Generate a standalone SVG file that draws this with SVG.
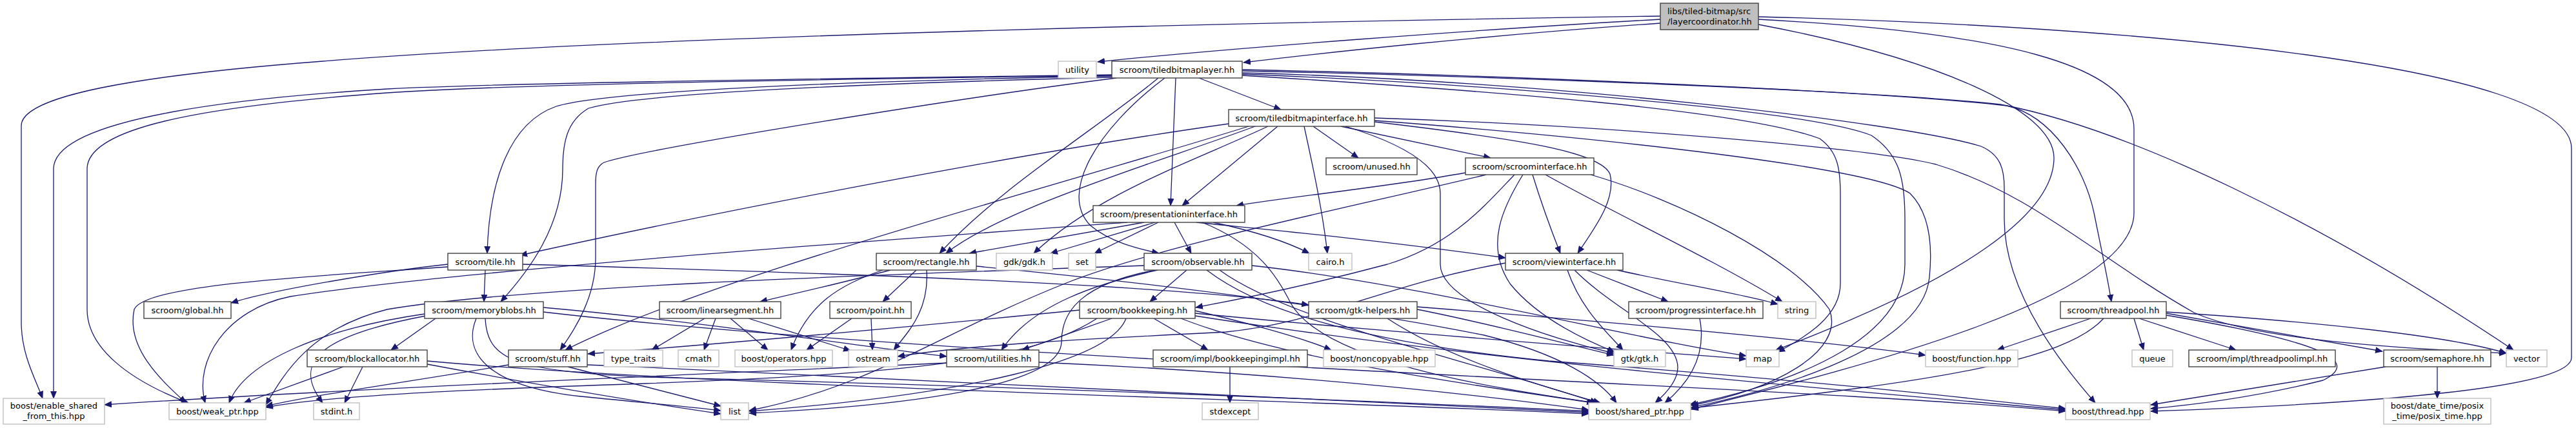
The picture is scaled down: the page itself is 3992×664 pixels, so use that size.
<svg xmlns="http://www.w3.org/2000/svg" width="3992" height="664" viewBox="0 0 3992 664">
<style>
.n rect{fill:#fff;stroke:#404040;stroke-width:1.4}
.s rect{fill:#fff;stroke:#bfbfbf;stroke-width:1.4}
.r rect{fill:#bfbfbf;stroke:#404040;stroke-width:1.4}
text{font-family:"DejaVu Sans","Liberation Sans",sans-serif;font-size:13px;fill:#000;text-anchor:middle}
.e path{fill:none;stroke:#191970;stroke-width:1.3;marker-end:url(#a)}
</style>
<defs>
<marker id="a" viewBox="0 0 12 10" refX="11" refY="5" markerWidth="12" markerHeight="10" markerUnits="userSpaceOnUse" orient="auto"><path d="M0,0 L12,5 L0,10 z" fill="#191970" stroke="none"/></marker>
</defs>
<rect width="3992" height="664" fill="#fff"/>
<g id="edges" class="e">
<path d="M2573,30 C2300,45 1900,75 1701,96"/>
<path d="M2573,36 C2300,55 2050,82 1927,97"/>
<path d="M2573,25 C2000,33 1000,55 500,95 C200,118 33,150 33,195 L33,500 C33,550 55,588 66,618"/>
<path d="M2725,38 C3000,90 3183,170 3183,245 C3183,330 3050,430 2752,543"/>
<path d="M2725,30 C3100,50 3307,100 3307,200 L3307,330 C3307,460 2900,565 2621,635"/>
<path d="M2725,26 C3300,40 3985,100 3985,230 L3985,555 C3985,600 3700,625 3333,638"/>
<path d="M1858,121 L1985,170"/>
<path d="M1822,121 L1814,319"/>
<path d="M1795,121 C1700,200 1550,290 1456,393"/>
<path d="M1805,121 C1700,200 1640,300 1690,350 C1720,375 1760,385 1796,393"/>
<path d="M1723,118 C1400,124 950,138 862,165 C790,190 758,280 755,393"/>
<path d="M1723,120 C1400,128 1000,142 912,168 C878,188 872,222 872,262 C872,350 820,420 776,468"/>
<path d="M1730,121 C1500,150 1000,230 936,252 C925,258 923,268 923,285 L923,400 C923,460 892,510 868,543"/>
<path d="M1723,116 C1300,122 800,128 600,138 C400,150 83,180 83,262 L83,618"/>
<path d="M1723,117 C1300,123 800,130 600,144 C300,166 135,200 135,262 L135,480 C135,540 200,590 292,625"/>
<path d="M1925,108 C2300,116 2900,140 3110,164 C3180,180 3230,260 3245,330 C3255,380 3265,425 3272,468"/>
<path d="M1925,110 C2300,118 2900,140 3100,162 C3300,200 3600,345 3895,543"/>
<path d="M1925,113 C2400,125 2950,190 3070,227 C3100,240 3106,262 3106,292 L3106,340 C3106,450 3190,560 3247,625"/>
<path d="M1925,115 C2300,130 2800,170 2900,210 C2945,240 2952,280 2952,340 L2952,410 C2952,520 2800,590 2618,628"/>
<path d="M1925,117 C2300,140 2700,170 2820,215 C2848,235 2852,262 2852,302 L2852,440 C2852,490 2800,522 2755,546"/>
<path d="M2035,196 L2105,245"/>
<path d="M2078,196 L2310,245"/>
<path d="M1980,196 L1832,319"/>
<path d="M1945,196 C1800,250 1560,320 1466,393"/>
<path d="M1965,196 C1850,250 1700,300 1602,393"/>
<path d="M2021,196 C2035,260 2050,330 2057,393"/>
<path d="M1904,192 C1600,235 1150,320 806,396"/>
<path d="M1935,196 C1600,300 1100,430 876,543"/>
<path d="M2130,189 C2350,215 2480,235 2495,270 C2505,310 2470,355 2445,393"/>
<path d="M2085,196 C2180,225 2232,260 2232,300 L2232,410 C2232,470 2400,525 2501,548"/>
<path d="M2130,183 C2500,195 2900,230 3000,255 C3150,300 3250,400 3400,485 C3500,530 3750,542 3884,548"/>
<path d="M2130,187 C2500,215 2900,260 2960,300 C2990,330 2995,380 2990,430 C2980,540 2750,605 2621,632"/>
<path d="M2271,268 C2150,290 2000,305 1916,319"/>
<path d="M2303,271 C2100,320 1800,380 1650,440 C1450,520 1350,600 1161,637"/>
<path d="M2347,271 C2300,320 2250,380 2150,410 C2000,450 1900,468 1853,477"/>
<path d="M2360,271 C2330,320 2300,380 2340,440 C2380,490 2450,525 2502,546"/>
<path d="M2375,271 C2390,320 2405,360 2418,393"/>
<path d="M2395,271 C2500,330 2650,400 2762,468"/>
<path d="M2465,271 C2600,310 2780,400 2835,480 C2860,545 2750,605 2621,629"/>
<path d="M1747,345 C1400,370 700,420 450,460 C350,480 300,560 318,625"/>
<path d="M1773,345 L1502,393"/>
<path d="M1790,345 L1628,393"/>
<path d="M1795,345 L1696,393"/>
<path d="M1820,345 L1846,393"/>
<path d="M1854,345 C1950,355 2100,368 2333,400"/>
<path d="M1880,345 C1950,360 2000,378 2029,393"/>
<path d="M1863,345 C1950,380 1980,430 2000,470 C2050,560 2300,600 2472,625"/>
<path d="M752,419 L750,468"/>
<path d="M694,410 C600,420 420,450 358,470"/>
<path d="M694,414 C500,428 225,440 208,480 C195,540 250,590 288,625"/>
<path d="M810,410 C1300,424 1800,440 2028,473"/>
<path d="M1420,419 L1368,468"/>
<path d="M1436,419 C1440,480 1410,512 1385,543"/>
<path d="M1380,419 C1300,440 1230,456 1178,468"/>
<path d="M1368,419 C1300,442 1252,472 1226,543"/>
<path d="M1513,413 C1800,440 2100,480 2300,520 C2420,550 2480,590 2505,625"/>
<path d="M1839,419 L1782,468"/>
<path d="M1794,419 C1700,440 1600,472 1552,543"/>
<path d="M1790,419 C1680,440 1645,480 1645,530 C1645,600 1400,630 1161,641"/>
<path d="M1773,412 C1300,428 800,446 600,480 C480,510 440,580 412,628"/>
<path d="M1940,412 C2200,440 2550,530 2706,552"/>
<path d="M1870,419 C1950,480 2100,530 2400,560 C2800,590 3000,612 3201,634"/>
<path d="M1890,419 C2000,500 2300,565 2475,625"/>
<path d="M1788,494 L1872,543"/>
<path d="M1723,494 L1584,543"/>
<path d="M1745,494 C1720,560 1500,612 1161,638"/>
<path d="M1673,481 C1400,508 1100,535 911,549"/>
<path d="M1852,482 C1950,505 2020,525 2063,543"/>
<path d="M1852,486 C2200,520 2550,545 2706,557"/>
<path d="M1852,490 C2300,560 2800,600 3201,636"/>
<path d="M1830,494 C2000,560 2300,600 2470,625"/>
<path d="M1700,494 C1600,560 1400,580 1000,595 C700,605 500,615 412,632"/>
<path d="M675,494 L606,543"/>
<path d="M660,490 C500,520 450,560 500,625"/>
<path d="M658,487 C500,510 380,560 355,625"/>
<path d="M738,494 C715,550 760,600 900,615 C1000,625 1080,632 1117,637"/>
<path d="M752,494 C755,560 800,575 1000,585 C1600,600 2200,625 2462,638"/>
<path d="M842,477 C1100,500 1350,540 1467,553"/>
<path d="M842,484 C1500,560 2800,600 3201,638"/>
<path d="M562,569 L534,625"/>
<path d="M532,569 L378,625"/>
<path d="M662,560 C1100,600 2000,620 2462,642"/>
<path d="M662,565 C850,600 1000,625 1117,642"/>
<path d="M880,569 L1117,630"/>
<path d="M910,566 C1500,590 2100,620 2462,640"/>
<path d="M788,566 C650,590 500,610 412,630"/>
<path d="M1467,563 C1100,580 500,605 162,628"/>
<path d="M1610,562 C1900,575 2200,600 2462,636"/>
<path d="M1092,494 L1010,543"/>
<path d="M1109,494 L1091,543"/>
<path d="M1132,494 L1190,543"/>
<path d="M1160,494 L1318,544"/>
<path d="M1350,494 L1352,543"/>
<path d="M1320,494 L1250,543"/>
<path d="M2459,419 L2585,468"/>
<path d="M2506,419 C2600,440 2700,456 2755,472"/>
<path d="M2429,419 C2450,480 2490,515 2515,543"/>
<path d="M2440,419 C2500,480 2600,520 2600,570 C2600,592 2580,612 2565,625"/>
<path d="M2333,408 C2150,440 2050,500 1900,515 C1700,525 1500,535 1391,553"/>
<path d="M2634,494 C2645,550 2620,592 2580,625"/>
<path d="M2196,480 C2300,500 2420,532 2501,551"/>
<path d="M2196,476 C2500,500 2800,526 2984,551"/>
<path d="M2150,494 C2250,560 2400,602 2480,625"/>
<path d="M3307,494 L3322,543"/>
<path d="M3315,494 L3465,543"/>
<path d="M3357,486 L3692,545"/>
<path d="M3357,484 C3600,500 3800,522 3884,548"/>
<path d="M3357,489 C3600,530 3660,560 3600,590 C3500,615 3400,628 3333,634"/>
<path d="M3240,494 L3095,543"/>
<path d="M3260,494 C3200,560 3000,592 2621,633"/>
<path d="M3697,569 L3333,628"/>
<path d="M3777,569 L3777,618"/>
<path d="M1906,569 L1906,625"/>
</g>
<g id="layercoordinator" class="r"><rect x="2573" y="5" width="152" height="41"/><text x="2584" y="22" style="text-anchor:start">libs/tiled-bitmap/src</text><text x="2584" y="38" style="text-anchor:start">/layercoordinator.hh</text></g>
<g id="utility" class="s"><rect x="1640" y="95" width="59" height="26"/><text x="1669.5" y="112.5">utility</text></g>
<g id="tiledbitmaplayer" class="n"><rect x="1723" y="95" width="202" height="26"/><text x="1824" y="112.5">scroom/tiledbitmaplayer.hh</text></g>
<g id="tiledbitmapinterface" class="n"><rect x="1904" y="170" width="226" height="26"/><text x="2017" y="187.5">scroom/tiledbitmapinterface.hh</text></g>
<g id="unused" class="n"><rect x="2055" y="245" width="141" height="26"/><text x="2125.5" y="262.5">scroom/unused.hh</text></g>
<g id="scroominterface" class="n"><rect x="2271" y="245" width="199" height="26"/><text x="2370.5" y="262.5">scroom/scroominterface.hh</text></g>
<g id="presentationinterface" class="n"><rect x="1694" y="319" width="235" height="26"/><text x="1811.5" y="336.5">scroom/presentationinterface.hh</text></g>
<g id="tile" class="n"><rect x="694" y="393" width="116" height="26"/><text x="752" y="410.5">scroom/tile.hh</text></g>
<g id="rectangle" class="n"><rect x="1358" y="393" width="155" height="26"/><text x="1435.5" y="410.5">scroom/rectangle.hh</text></g>
<g id="gdk" class="s"><rect x="1544" y="393" width="87" height="26"/><text x="1587.5" y="410.5">gdk/gdk.h</text></g>
<g id="set" class="s"><rect x="1656" y="393" width="42" height="26"/><text x="1677" y="410.5">set</text></g>
<g id="observable" class="n"><rect x="1773" y="393" width="167" height="26"/><text x="1856.5" y="410.5">scroom/observable.hh</text></g>
<g id="cairo" class="s"><rect x="2028" y="393" width="67" height="26"/><text x="2061.5" y="410.5">cairo.h</text></g>
<g id="viewinterface" class="n"><rect x="2333" y="393" width="182" height="26"/><text x="2424" y="410.5">scroom/viewinterface.hh</text></g>
<g id="global" class="n"><rect x="223" y="468" width="135" height="26"/><text x="290.5" y="485.5">scroom/global.hh</text></g>
<g id="memoryblobs" class="n"><rect x="658" y="468" width="184" height="26"/><text x="750" y="485.5">scroom/memoryblobs.hh</text></g>
<g id="linearsegment" class="n"><rect x="1022" y="468" width="188" height="26"/><text x="1116" y="485.5">scroom/linearsegment.hh</text></g>
<g id="point" class="n"><rect x="1286" y="468" width="126" height="26"/><text x="1349" y="485.5">scroom/point.hh</text></g>
<g id="bookkeeping" class="n"><rect x="1673" y="468" width="179" height="26"/><text x="1762.5" y="485.5">scroom/bookkeeping.hh</text></g>
<g id="gtkhelpers" class="n"><rect x="2028" y="468" width="168" height="26"/><text x="2112" y="485.5">scroom/gtk-helpers.hh</text></g>
<g id="progressinterface" class="n"><rect x="2524" y="468" width="208" height="26"/><text x="2628" y="485.5">scroom/progressinterface.hh</text></g>
<g id="string" class="s"><rect x="2755" y="468" width="59" height="26"/><text x="2784.5" y="485.5">string</text></g>
<g id="threadpool" class="n"><rect x="3193" y="468" width="164" height="26"/><text x="3275" y="485.5">scroom/threadpool.hh</text></g>
<g id="blockallocator" class="n"><rect x="476" y="543" width="186" height="26"/><text x="569" y="560.5">scroom/blockallocator.hh</text></g>
<g id="stuff" class="n"><rect x="788" y="543" width="122" height="26"/><text x="849" y="560.5">scroom/stuff.hh</text></g>
<g id="type_traits" class="s"><rect x="936" y="543" width="91" height="26"/><text x="981.5" y="560.5">type_traits</text></g>
<g id="cmath" class="s"><rect x="1051" y="543" width="63" height="26"/><text x="1082.5" y="560.5">cmath</text></g>
<g id="operators" class="s"><rect x="1139" y="543" width="151" height="26"/><text x="1214.5" y="560.5">boost/operators.hpp</text></g>
<g id="ostream" class="s"><rect x="1315" y="543" width="76" height="26"/><text x="1353" y="560.5">ostream</text></g>
<g id="utilities" class="n"><rect x="1467" y="543" width="143" height="26"/><text x="1538.5" y="560.5">scroom/utilities.hh</text></g>
<g id="bookkeepingimpl" class="n"><rect x="1787" y="543" width="239" height="26"/><text x="1906.5" y="560.5">scroom/impl/bookkeepingimpl.hh</text></g>
<g id="noncopyable" class="s"><rect x="2051" y="543" width="173" height="26"/><text x="2137.5" y="560.5">boost/noncopyable.hpp</text></g>
<g id="gtk" class="s"><rect x="2501" y="543" width="80" height="26"/><text x="2541" y="560.5">gtk/gtk.h</text></g>
<g id="map" class="s"><rect x="2706" y="543" width="51" height="26"/><text x="2731.5" y="560.5">map</text></g>
<g id="function" class="s"><rect x="2984" y="543" width="143" height="26"/><text x="3055.5" y="560.5">boost/function.hpp</text></g>
<g id="queue" class="s"><rect x="3304" y="543" width="63" height="26"/><text x="3335.5" y="560.5">queue</text></g>
<g id="threadpoolimpl" class="n"><rect x="3392" y="543" width="227" height="26"/><text x="3505.5" y="560.5">scroom/impl/threadpoolimpl.hh</text></g>
<g id="semaphore" class="n"><rect x="3694" y="543" width="166" height="26"/><text x="3777" y="560.5">scroom/semaphore.hh</text></g>
<g id="vector" class="s"><rect x="3884" y="543" width="63" height="26"/><text x="3915.5" y="560.5">vector</text></g>
<g id="enable_shared" class="s"><rect x="5" y="618" width="157" height="40"/><text x="83.5" y="634">boost/enable_shared</text><text x="83.5" y="650">_from_this.hpp</text></g>
<g id="weak_ptr" class="s"><rect x="262" y="625" width="150" height="26"/><text x="337" y="642.5">boost/weak_ptr.hpp</text></g>
<g id="stdint" class="s"><rect x="486" y="625" width="71" height="26"/><text x="521.5" y="642.5">stdint.h</text></g>
<g id="list" class="s"><rect x="1117" y="625" width="43" height="26"/><text x="1138.5" y="642.5">list</text></g>
<g id="stdexcept" class="s"><rect x="1863" y="625" width="87" height="26"/><text x="1906.5" y="642.5">stdexcept</text></g>
<g id="shared_ptr" class="s"><rect x="2462" y="625" width="158" height="26"/><text x="2541" y="642.5">boost/shared_ptr.hpp</text></g>
<g id="thread" class="s"><rect x="3201" y="625" width="131" height="26"/><text x="3266.5" y="642.5">boost/thread.hpp</text></g>
<g id="posix_time" class="s"><rect x="3694" y="618" width="166" height="40"/><text x="3777" y="634">boost/date_time/posix</text><text x="3777" y="650">_time/posix_time.hpp</text></g>
</svg>
